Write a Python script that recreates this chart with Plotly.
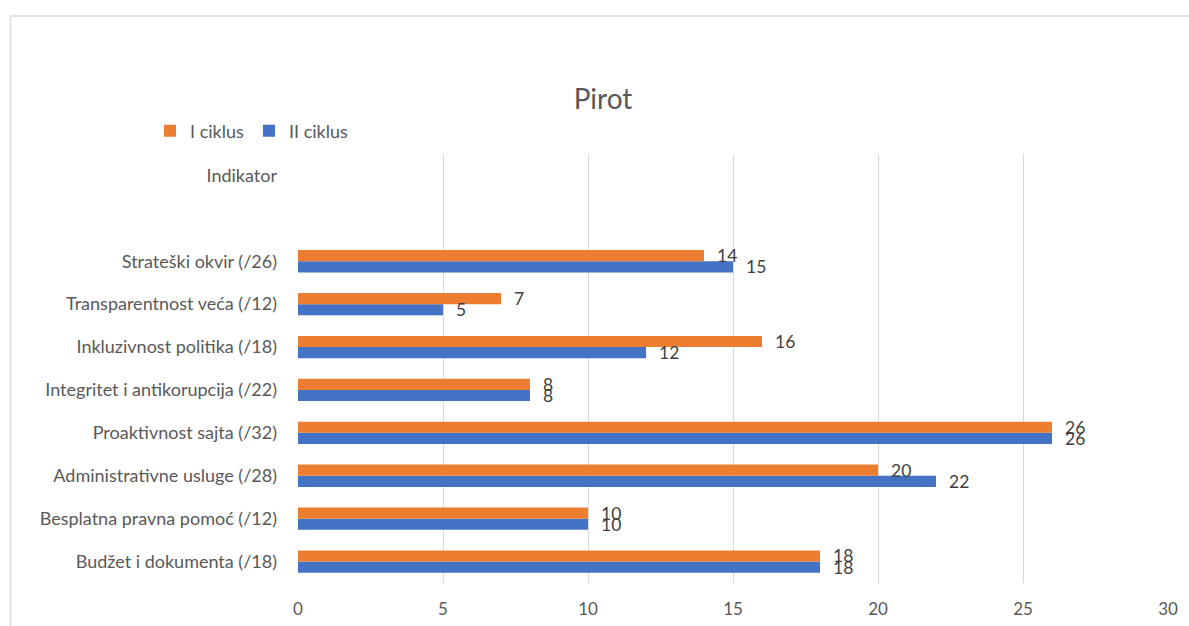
import plotly.graph_objects as go

# Categories bottom-up (plotly category axis puts the first at the bottom)
categories = [
    "Budžet i dokumenta (/18)",
    "Besplatna pravna pomoć (/12)",
    "Administrativne usluge (/28)",
    "Proaktivnost sajta (/32)",
    "Integritet i antikorupcija (/22)",
    "Inkluzivnost politika (/18)",
    "Transparentnost veća (/12)",
    "Strateški okvir (/26)",
    " ",
    "Indikator",
]
ciklus_1 = [18, 10, 20, 26, 8, 16, 7, 14, None, None]
ciklus_2 = [18, 10, 22, 26, 8, 12, 5, 15, None, None]
x_ticks = [0, 5, 10, 15, 20, 25, 30]

ORANGE = "#ED7D31"
BLUE = "#4472C4"
FONT = "Lato"

fig = go.Figure()
fig.add_trace(go.Bar(y=categories, x=ciklus_2, name="II ciklus", orientation="h",
                     marker=dict(color=BLUE, line=dict(width=0))))
fig.add_trace(go.Bar(y=categories, x=ciklus_1, name="I ciklus", orientation="h",
                     marker=dict(color=ORANGE, line=dict(width=0))))

annotations = []
off = 0.13
for i, (a, b) in enumerate(zip(ciklus_1, ciklus_2)):
    if a is not None:
        annotations.append(dict(x=a, y=i + off, xref="x", yref="y", text=str(a),
                                showarrow=False, xanchor="left", yanchor="middle", xshift=11,
                                font=dict(family=FONT, size=17.5, color="#404040")))
    if b is not None:
        annotations.append(dict(x=b, y=i - off, xref="x", yref="y", text=str(b),
                                showarrow=False, xanchor="left", yanchor="middle", xshift=11,
                                font=dict(family=FONT, size=17.5, color="#404040")))

L, R, T, B = 298, 21, 154, 43
W, H = 1189, 626
pw, ph = W - L - R, H - T - B

fig.update_layout(
    template="none",
    width=W, height=H,
    margin=dict(l=L, r=R, t=T, b=B, autoexpand=False),
    paper_bgcolor="white", plot_bgcolor="white",
    barmode="group", bargap=0.48, bargroupgap=0,
    font=dict(family=FONT, color="#595959", size=16),
    title=dict(text="Pirot", x=603 / W, xref="container", xanchor="center",
               y=1 - 99 / H, yref="container", yanchor="middle",
               font=dict(family=FONT, size=28, color="#595959")),
    legend=dict(orientation="h", x=(150 - L) / pw, xanchor="left", y=(583 - 131) / ph,
                yanchor="middle", traceorder="reversed", font=dict(size=18, color="#595959"),
                itemwidth=30, bgcolor="rgba(0,0,0,0)"),
    xaxis=dict(range=[0, 30], tickvals=x_ticks, showgrid=True, gridcolor="#D9D9D9",
               gridwidth=1, zeroline=False, showline=False, ticks="", automargin=False,
               tickfont=dict(size=17, color="#595959"), ticklabelstandoff=14),
    yaxis=dict(type="category", categoryorder="array", categoryarray=categories,
               range=[-0.5, len(categories) - 0.5], showgrid=False, zeroline=False,
               showline=False, ticks="", automargin=False,
               tickfont=dict(size=18, color="#595959"), ticklabelstandoff=20),
    annotations=annotations,
    shapes=[dict(type="rect", xref="paper", yref="paper",
                 x0=(10.5 - L) / pw, x1=(1210 - L) / pw,
                 y0=(583 - 650) / ph, y1=(583 - 16) / ph,
                 line=dict(color="#D9D9D9", width=1.5), fillcolor="rgba(0,0,0,0)", layer="below")],
    showlegend=True,
)

fig.write_html("out.html")
